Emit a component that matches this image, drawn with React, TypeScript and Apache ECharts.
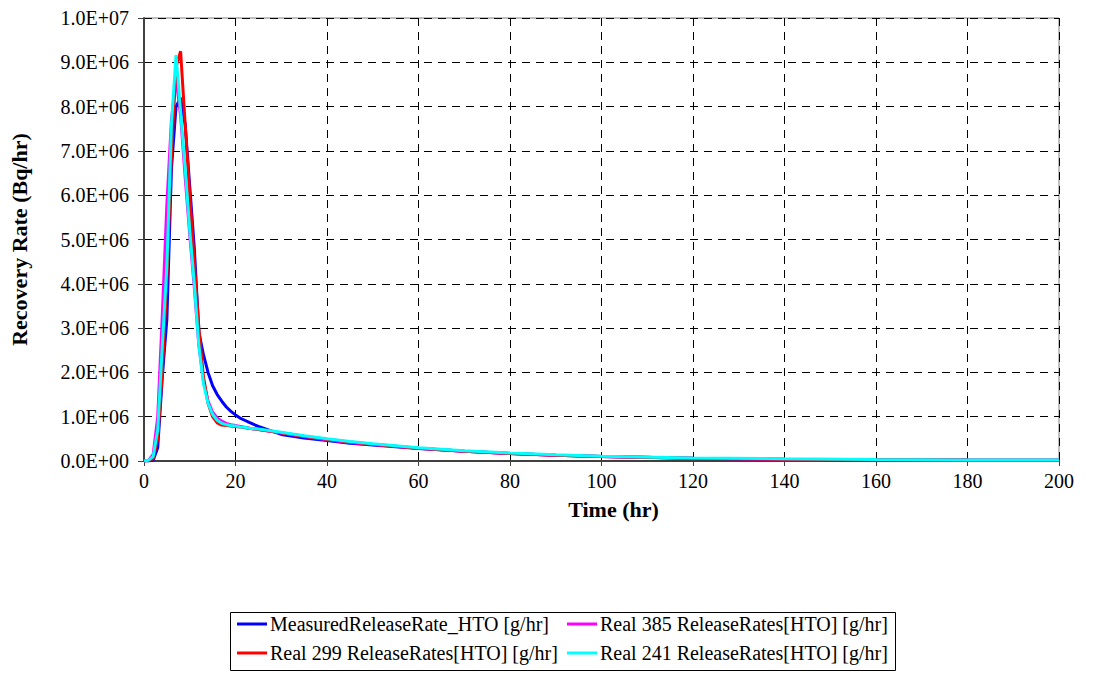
import React, { useEffect, useRef } from "react";
import * as echarts from "echarts";

const timeHr = [0, 1, 2, 3, 4, 5, 6, 7, 8, 9, 10, 11, 12, 13, 14, 15, 16, 17, 18, 19, 20, 21, 22, 23, 25, 30, 35, 40, 45, 50, 60, 70, 80, 90, 100, 120, 140, 160, 180, 200];

const measured = [0, 0, 2e4, 3e5, 1.9e6, 3.2e6, 6.6e6, 8.0e6, 8.2e6, 7.6e6, 6.2e6, 4.8e6, 2.9e6, 2.4e6, 2.0e6, 1.7e6, 1.5e6, 1.35e6, 1.22e6, 1.12e6, 1.04e6, 9.7e5, 9.2e5, 8.7e5, 7.8e5, 6.0e5, 5.2e5, 4.6e5, 4.0e5, 3.6e5, 2.8e5, 2.2e5, 1.7e5, 1.3e5, 1.0e5, 6e4, 4e4, 3e4, 2e4, 1.5e4];
const real385 = [0, 2e4, 1.5e5, 1.0e6, 3.3e6, 5.8e6, 7.7e6, 8.65e6, 7.8e6, 6.4e6, 5.1e6, 3.9e6, 2.6e6, 1.8e6, 1.35e6, 1.1e6, 9.7e5, 9.0e5, 8.5e5, 8.2e5, 8.0e5, 7.8e5, 7.6e5, 7.4e5, 7.1e5, 6.3e5, 5.5e5, 4.8e5, 4.2e5, 3.7e5, 2.9e5, 2.2e5, 1.7e5, 1.3e5, 1.0e5, 6e4, 4e4, 3e4, 2e4, 1.5e4];
const real299 = [0, 1e4, 5e4, 5e5, 2.0e6, 4.1e6, 6.9e6, 8.9e6, 9.25e6, 7.6e6, 6.0e6, 4.5e6, 3.0e6, 1.9e6, 1.3e6, 1.0e6, 8.6e5, 8.1e5, 8.0e5, 7.9e5, 7.8e5, 7.7e5, 7.5e5, 7.4e5, 7.1e5, 6.4e5, 5.6e5, 4.9e5, 4.3e5, 3.8e5, 2.9e5, 2.2e5, 1.7e5, 1.3e5, 1.0e5, 6e4, 4e4, 3e4, 2e4, 1.5e4];
const real241 = [0, 2e4, 1e5, 7e5, 2.6e6, 4.4e6, 7.6e6, 9.16e6, 7.9e6, 6.6e6, 5.2e6, 4.0e6, 2.6e6, 1.75e6, 1.3e6, 1.05e6, 9.2e5, 8.5e5, 8.2e5, 8.0e5, 7.9e5, 7.7e5, 7.6e5, 7.4e5, 7.2e5, 6.5e5, 5.7e5, 5.0e5, 4.4e5, 3.9e5, 3.0e5, 2.3e5, 1.8e5, 1.4e5, 1.1e5, 7e4, 5e4, 3.5e4, 2.5e4, 2e4];

const seriesNames = [
  "MeasuredReleaseRate_HTO [g/hr]",
  "Real 385 ReleaseRates[HTO] [g/hr]",
  "Real 299 ReleaseRates[HTO] [g/hr]",
  "Real 241 ReleaseRates[HTO] [g/hr]",
];
const seriesValues = [measured, real385, real299, real241];
const seriesColors = ["#0000FF", "#FF00FF", "#FF0000", "#00FFFF"];

const FONT = "Liberation Serif";

function sci(v: number): string {
  if (v === 0) return "0.0E+00";
  const s = v.toExponential(1);
  const [m, e] = s.split("e");
  const n = parseInt(e, 10);
  const sign = n < 0 ? "-" : "+";
  const abs = Math.abs(n);
  return m + "E" + sign + (abs < 10 ? "0" + abs : String(abs));
}

export default function App() {
  const ref = useRef<HTMLDivElement>(null);
  useEffect(() => {
    if (!ref.current) return;
    const chart = echarts.init(ref.current, undefined, { renderer: "svg" });
    const series = seriesNames.map((name, i) => ({
      name,
      type: "line",
      data: timeHr.map((t, j) => [t, seriesValues[i][j]]),
      showSymbol: false,
      symbol: "none",
      lineStyle: { color: seriesColors[i], width: 3 },
      itemStyle: { color: seriesColors[i] },
      z: 2 + i,
    }));
    const legendCommon = {
      orient: "vertical",
      top: 609,
      itemGap: 9,
      icon: "rect",
      itemWidth: 30,
      itemHeight: 3,
      textStyle: { fontFamily: FONT, fontSize: 20, color: "#000", padding: [0, 0, 0, -2] },
    };
    chart.setOption({
      animation: false,
      backgroundColor: "#ffffff",
      textStyle: { fontFamily: FONT },
      grid: {
        left: 142,
        right: 53,
        top: 18,
        bottom: 212,
        show: true,
        borderColor: "#808080",
        borderWidth: 1,
      },
      xAxis: {
        type: "value",
        min: 0,
        max: 200,
        interval: 20,
        name: "Time (hr)",
        nameLocation: "middle",
        nameGap: 37,
        nameTextStyle: { fontFamily: FONT, fontSize: 22, fontWeight: "bold", color: "#000", padding: [0, 0, 0, 24] },
        axisLine: { show: true, onZero: false, lineStyle: { color: "#404040", width: 2 } },
        axisTick: { show: true, inside: false, length: 5, lineStyle: { color: "#404040" } },
        axisLabel: { fontFamily: FONT, fontSize: 20, color: "#000", margin: 10 },
        splitLine: { show: true, lineStyle: { color: "#000", type: [8, 6], width: 1 } },
      },
      yAxis: {
        type: "value",
        min: 0,
        max: 1e7,
        interval: 1e6,
        name: "Recovery Rate (Bq/hr)",
        nameLocation: "middle",
        nameGap: 114,
        nameTextStyle: { fontFamily: FONT, fontSize: 22, fontWeight: "bold", color: "#000" },
        axisLine: { show: true, lineStyle: { color: "#404040", width: 2 } },
        axisTick: { show: true, length: 6, lineStyle: { color: "#404040" } },
        axisLabel: { fontFamily: FONT, fontSize: 20, color: "#000", margin: 15, formatter: (v: number) => sci(v) },
        splitLine: { show: true, lineStyle: { color: "#000", type: [8, 6], width: 1 } },
      },
      legend: [
        { ...legendCommon, data: [seriesNames[0], seriesNames[2]], left: 232 },
        { ...legendCommon, data: [seriesNames[1], seriesNames[3]], left: 562 },
      ],
      graphic: [
        {
          type: "rect",
          left: 228,
          top: 610,
          shape: { width: 665, height: 58 },
          style: { fill: "none", stroke: "#000", lineWidth: 1 },
          silent: true,
        },
      ],
      series,
    });
    return () => chart.dispose();
  }, []);
  return (
    <div
      ref={ref}
      style={{ position: "fixed", left: 0, top: 0, width: 1112, height: 673, background: "#fff" }}
    />
  );
}
